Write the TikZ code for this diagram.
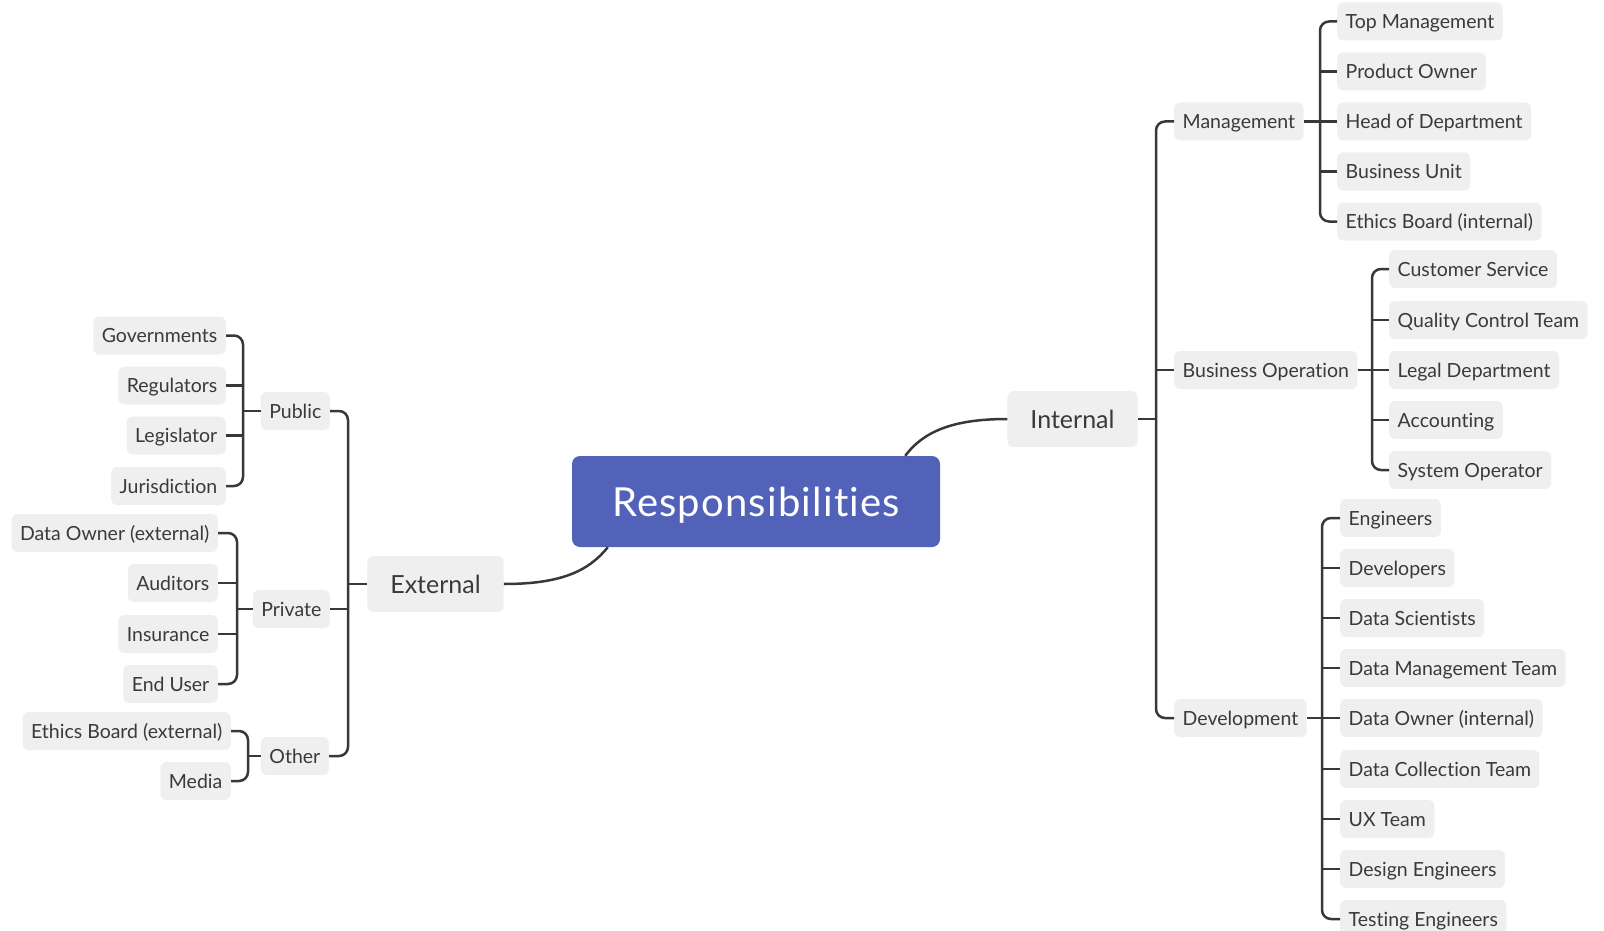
\documentclass[tikz,border=0pt]{standalone}
\usepackage{fontspec}
\setmainfont{Lato}[Ligatures={NoCommon}]
\usetikzlibrary{calc}
\definecolor{boxfill}{HTML}{EFEFEF}
\definecolor{txt}{HTML}{3A3A3A}
\definecolor{ln}{HTML}{383838}
\definecolor{central}{HTML}{5262B8}
\begin{document}
\begin{tikzpicture}[x=1pt,y=-1pt,
  leaf/.style={fill=boxfill, rounded corners=6pt, inner xsep=8.5pt, inner ysep=0pt,
    minimum height=38pt, text height=16.5pt, text depth=2.5pt, text=txt,
    font=\fontsize{19.5}{19.5}\selectfont},
  topic/.style={leaf, minimum height=56pt, inner xsep=23pt, text height=19pt, text depth=0pt,
    font=\fontsize{25}{25}\selectfont},
  root/.style={fill=central, rounded corners=8pt, text=white, inner xsep=0pt,
    minimum width=368pt, minimum height=91pt, text height=29pt, text depth=0pt,
    font=\fontsize{40}{40}\selectfont\addfontfeature{LetterSpace=3}},
  conn/.style={draw=ln, line width=2.5pt},
  bracket/.style={conn, rounded corners=9pt}]
\useasboundingbox (0,0) rectangle (1604,931);

% root and main topics
\node[root] (resp) at (756,501.5) {Responsibilities};
\node[topic] (int) at (1072.5,419) {Internal};
\node[topic] (ext) at (435.5,584) {External};

\draw[conn] ($(resp.north east)+(-35,0)$) .. controls +(18,-24) and +(-55,0) .. (int.west);
\draw[conn] ($(resp.south west)+(36,0)$) .. controls +(-20,25) and +(55,0) .. (ext.east);

% Internal branch
\node[leaf,anchor=west] (mgmt) at (1174,121.5) {Management};
\node[leaf,anchor=west] (bo) at (1174,370) {Business Operation};
\node[leaf,anchor=west] (dev) at (1174,718) {Development};

\node[leaf,anchor=west] (m1) at (1337,21.5) {Top Management};
\node[leaf,anchor=west] (m2) at (1337,71.5) {Product Owner};
\node[leaf,anchor=west] (m3) at (1337,121.5) {Head of Department};
\node[leaf,anchor=west] (m4) at (1337,171.5) {Business Unit};
\node[leaf,anchor=west] (m5) at (1337,221.5) {Ethics Board (internal)};

\node[leaf,anchor=west] (b1) at (1389,269) {Customer Service};
\node[leaf,anchor=west] (b2) at (1389,320) {Quality Control Team};
\node[leaf,anchor=west] (b3) at (1389,370) {Legal Department};
\node[leaf,anchor=west] (b4) at (1389,420) {Accounting};
\node[leaf,anchor=west] (b5) at (1389,470) {System Operator};

\node[leaf,anchor=west] (d1) at (1340,518) {Engineers};
\node[leaf,anchor=west] (d2) at (1340,568) {Developers};
\node[leaf,anchor=west] (d3) at (1340,618) {Data Scientists};
\node[leaf,anchor=west] (d4) at (1340,668) {Data Management Team};
\node[leaf,anchor=west] (d5) at (1340,718) {Data Owner (internal)};
\node[leaf,anchor=west] (d6) at (1340,769) {Data Collection Team};
\node[leaf,anchor=west] (d7) at (1340,819) {UX Team};
\node[leaf,anchor=west] (d8) at (1340,869) {Design Engineers};
\node[leaf,anchor=west] (d9) at (1340,919) {Testing Engineers};

\coordinate (xI) at (1156,0);
\coordinate (xM) at (1320,0);
\coordinate (xB) at (1372,0);
\coordinate (xD) at (1322,0);

\draw[conn] (int.east) -- (int.east -| xI);
\draw[bracket] (mgmt.west) -- (mgmt.west -| xI) -- (dev.west -| xI) -- (dev.west);
\draw[conn] (bo.west) -- (bo.west -| xI);

\draw[conn] (mgmt.east) -- (mgmt.east -| xM);
\draw[bracket] (m1.west) -- (m1.west -| xM) -- (m5.west -| xM) -- (m5.west);
\foreach \n in {m2,m3,m4} \draw[conn] (\n.west) -- (\n.west -| xM);

\draw[conn] (bo.east) -- (bo.east -| xB);
\draw[bracket] (b1.west) -- (b1.west -| xB) -- (b5.west -| xB) -- (b5.west);
\foreach \n in {b2,b3,b4} \draw[conn] (\n.west) -- (\n.west -| xB);

\draw[conn] (dev.east) -- (dev.east -| xD);
\draw[bracket] (d1.west) -- (d1.west -| xD) -- (d9.west -| xD) -- (d9.west);
\foreach \n in {d2,d3,d4,d5,d6,d7,d8} \draw[conn] (\n.west) -- (\n.west -| xD);

% External branch
\node[leaf,anchor=east] (pub) at (330,411) {Public};
\node[leaf,anchor=east] (pri) at (330,609) {Private};
\node[leaf,anchor=east] (oth) at (329,756) {Other};

\node[leaf,anchor=east] (p1) at (226,335.5) {Governments};
\node[leaf,anchor=east] (p2) at (226,385.5) {Regulators};
\node[leaf,anchor=east] (p3) at (226,435.5) {Legislator};
\node[leaf,anchor=east] (p4) at (226,486) {Jurisdiction};

\node[leaf,anchor=east] (r1) at (218,533) {Data Owner (external)};
\node[leaf,anchor=east] (r2) at (218,583) {Auditors};
\node[leaf,anchor=east] (r3) at (218,634) {Insurance};
\node[leaf,anchor=east] (r4) at (218,684) {End User};

\node[leaf,anchor=east] (o1) at (231,731) {Ethics Board (external)};
\node[leaf,anchor=east] (o2) at (231,781) {Media};

\coordinate (xE) at (348,0);
\coordinate (xP) at (243,0);
\coordinate (xR) at (237,0);
\coordinate (xO) at (248,0);

\draw[conn] (ext.west) -- (ext.west -| xE);
\draw[bracket] (pub.east) -- (pub.east -| xE) -- (oth.east -| xE) -- (oth.east);
\draw[conn] (pri.east) -- (pri.east -| xE);

\draw[conn] (pub.west) -- (pub.west -| xP);
\draw[bracket] (p1.east) -- (p1.east -| xP) -- (p4.east -| xP) -- (p4.east);
\foreach \n in {p2,p3} \draw[conn] (\n.east) -- (\n.east -| xP);

\draw[conn] (pri.west) -- (pri.west -| xR);
\draw[bracket] (r1.east) -- (r1.east -| xR) -- (r4.east -| xR) -- (r4.east);
\foreach \n in {r2,r3} \draw[conn] (\n.east) -- (\n.east -| xR);

\draw[conn] (oth.west) -- (oth.west -| xO);
\draw[bracket] (o1.east) -- (o1.east -| xO) -- (o2.east -| xO) -- (o2.east);
\end{tikzpicture}
\end{document}
